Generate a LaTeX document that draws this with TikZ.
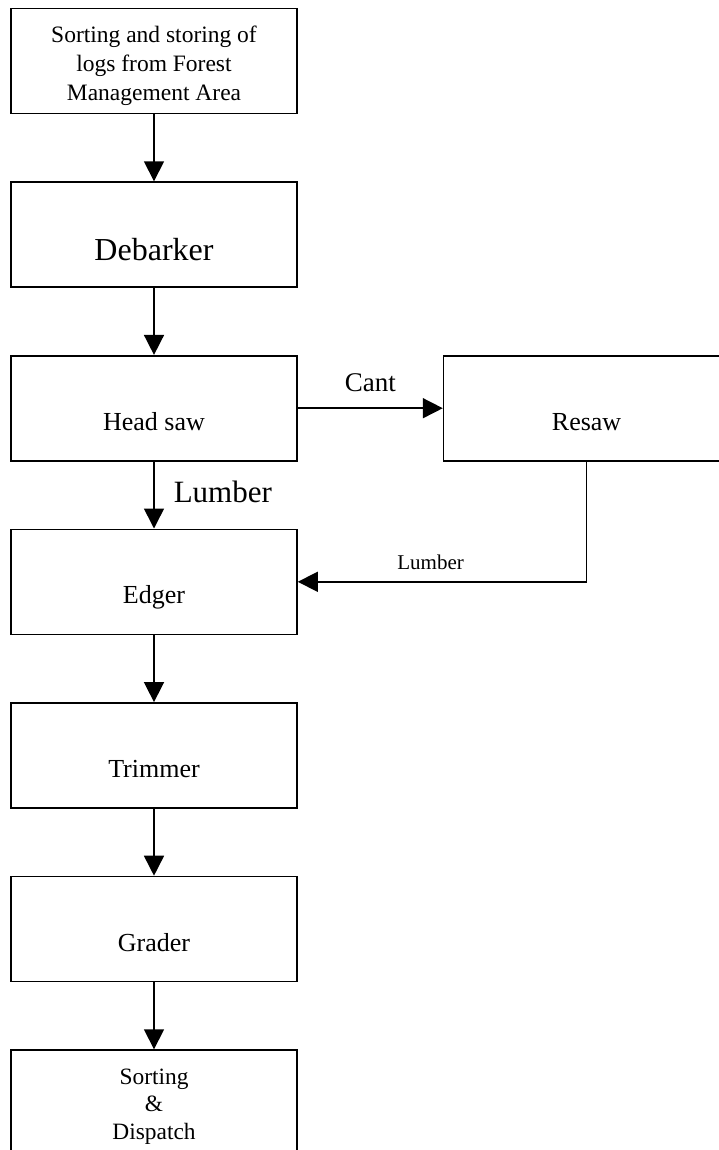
\documentclass[tikz,border=0pt]{standalone}
\usepackage{fontspec}
\setmainfont{Liberation Serif}
\usepackage{tikz}
\usetikzlibrary{arrows.meta, positioning}
\tikzstyle{box} = [rectangle, draw=black, line width=1.6pt, minimum width=286pt, minimum height=105pt, inner sep=0pt]
\tikzstyle{block} = [box, font=\fontsize{26}{30}\selectfont, text height=44pt, text depth=0pt]
\tikzstyle{multi} = [box, align=center]
\tikzstyle{arrow} = [line width=1.6pt, -{Triangle[length=20pt,width=20pt]}]
\tikzstyle{tag} = [inner sep=0pt]

\begin{document}
\begin{tikzpicture}[node distance=67pt]
\useasboundingbox (0,0) rectangle (718pt,-1150pt);

\node (logs) [multi, font=\fontsize{23.5}{29}\selectfont, text height=84pt] at (154pt,-61pt) {Sorting and storing of\\logs from Forest\\Management Area};
\node (debarker) [block, below=of logs, font=\fontsize{32}{38}\selectfont, text height=52pt] {Debarker};
\node (headsaw) [block, below=of debarker] {Head saw};
\node (resaw) [block, right=145pt of headsaw] {Resaw};
\node (edger) [block, below=of headsaw] {Edger};
\node (trimmer) [block, below=of edger] {Trimmer};
\node (grader) [block, below=of trimmer] {Grader};
\node (dispatch) [multi, below=of grader, font=\fontsize{23.4}{27.5}\selectfont, text height=78pt] {Sorting\\\&\\Dispatch};

\draw [arrow] (logs) -- (debarker);
\draw [arrow] (debarker) -- (headsaw);
\draw [arrow] (headsaw) -- node[tag, above=16pt, font=\fontsize{27}{32}\selectfont] {Cant} (resaw);
\draw [arrow] (headsaw) -- node[tag, right=19pt, yshift=3pt, font=\fontsize{31}{36}\selectfont] {Lumber} (edger);
\draw [arrow] (resaw) |- node[tag, pos=0.77, above=11pt, font=\fontsize{21}{25}\selectfont] {Lumber} (edger);
\draw [arrow] (edger) -- (trimmer);
\draw [arrow] (trimmer) -- (grader);
\draw [arrow] (grader) -- (dispatch);

\end{tikzpicture}
\end{document}
